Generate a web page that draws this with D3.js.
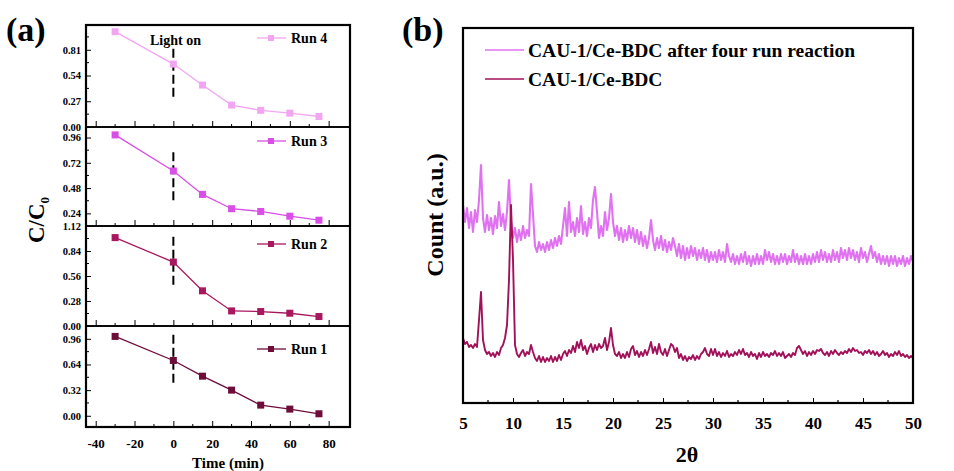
<!DOCTYPE html>
<html>
<head>
<meta charset="utf-8">
<script src="https://cdn.jsdelivr.net/npm/d3@7"></script>
<style>
  body { margin: 0; background: #fff; }
  text { font-family: "Liberation Serif", "Times New Roman", serif; font-weight: bold; }
</style>
</head>
<body>
<div class="fig"></div>
<script>
// ---------- data: panel (a) ----------
const timeMin = [-30, 0, 15, 30, 45, 60, 75];
const runNames = ['Run 4', 'Run 3', 'Run 2', 'Run 1'];
const run4 = [1.00, 0.66, 0.44, 0.23, 0.175, 0.145, 0.11];
const run3 = [0.985, 0.642, 0.42, 0.284, 0.258, 0.213, 0.175];
const run2 = [0.99, 0.716, 0.394, 0.169, 0.162, 0.143, 0.106];
const run1 = [0.99, 0.69, 0.494, 0.32, 0.133, 0.083, 0.025];
const runTicks = [
  [0, 0.27, 0.54, 0.81],
  [0.24, 0.48, 0.72, 0.96],
  [0, 0.28, 0.56, 0.84, 1.12],
  [0, 0.32, 0.64, 0.96]
];
const runDomains = [[0, 1.07], [0.12, 1.06], [0, 1.12], [-0.14, 1.12]];
// light-on marker (vertical dashed line at t = 0), from/to in C/C0
const lightOnSpan = [[0.82, 0.31], [0.82, 0.36], [1.0, 0.45], [1.01, 0.41]];
const timeTicks = [-40, -20, 0, 20, 40, 60, 80];

// ---------- data: panel (b), 2theta from 5 to 50 in 0.2 steps ----------
const thetaStart = 5, thetaStep = 0.2;
const xrdAfter = [
  198,181,195,175,191,171,193,181,203,238,
  185,171,188,173,185,169,187,175,201,177,
  189,173,191,223,181,165,175,161,173,163,
  177,165,173,167,219,189,157,151,161,153,
  159,151,161,153,163,155,165,157,167,159,
  177,195,167,201,171,181,167,185,171,197,
  169,181,167,185,175,203,216,191,165,177,
  167,191,173,185,209,181,167,177,163,175,
  161,173,163,177,165,175,161,173,159,171,
  157,167,155,165,183,163,153,165,155,167,
  153,163,151,161,153,165,157,147,159,145,
  157,143,155,145,157,147,155,143,153,145,
  155,143,153,141,151,143,151,141,153,143,
  151,141,159,147,141,149,139,147,139,149,
  141,151,139,147,137,147,139,149,139,147,
  139,153,143,151,141,149,139,147,139,149,
  141,149,139,147,141,153,141,149,139,147,
  139,149,139,147,139,149,141,151,141,153,
  143,151,141,149,141,153,143,151,141,155,
  145,153,143,155,145,153,143,151,141,155,
  145,151,141,149,157,145,151,141,149,139,
  147,139,147,137,147,139,147,137,145,139,
  147,137,145,139,147,141
];
const xrdFresh = [
  65,59,61,56,58,55,59,56,83,111,
  63,53,49,51,47,50,46,51,48,55,
  58,65,78,123,198,143,58,49,46,50,
  53,47,51,49,58,51,45,42,47,41,
  46,41,45,42,47,41,46,42,48,43,
  49,52,47,53,50,57,51,61,55,63,
  53,57,49,55,59,51,58,53,59,55,
  57,65,53,61,75,58,49,47,51,45,
  49,45,51,46,54,57,48,52,46,51,
  47,53,48,54,61,50,56,49,59,51,
  48,54,47,53,59,57,51,55,45,49,
  43,47,42,46,44,48,43,47,44,49,
  51,55,49,47,54,48,54,47,51,46,
  50,47,52,46,49,47,51,48,53,49,
  54,48,50,46,51,47,49,44,50,46,
  51,47,49,46,50,48,52,47,50,47,
  51,45,47,49,46,50,48,55,57,53,
  49,52,47,51,48,52,49,53,52,54,
  50,48,51,47,52,49,53,50,48,51,
  49,52,50,54,51,55,52,53,50,51,
  48,52,50,53,49,52,48,51,47,49,
  52,48,50,46,49,47,51,48,52,47,
  49,46,48,45,47,45
];
const xrdNames = ['CAU-1/Ce-BDC after four run reaction', 'CAU-1/Ce-BDC'];
const thetaTicks = [5, 10, 15, 20, 25, 30, 35, 40, 45, 50];

// ---------- styles ----------
const runColors = ['#f2a6f2', '#d94ee6', '#a8185e', '#6e0d3a'];
const xrdColors = ['#e072f2', '#a3105a'];

const svg = d3.select('.fig').append('svg')
  .attr('width', 954)
  .attr('height', 471)
  .style('background', '#fff');

// ================= panel (a) =================
const aLeft = 86, aRight = 350;
const panelTops = [25, 127, 226, 326];
const aBottom = 427;
const legendDy = [13, 14, 18, 23];

const xA = d3.scaleLinear().domain([-45, 91]).range([aLeft, aRight]);
const runs = [run4, run3, run2, run1];

runs.forEach((vals, k) => {
  const top = panelTops[k];
  const bottom = k < 3 ? panelTops[k + 1] : aBottom;
  const y = d3.scaleLinear().domain(runDomains[k]).range([bottom, top]);
  const g = svg.append('g');

  // minor y ticks
  const step = runTicks[k][1] - runTicks[k][0];
  const minorY = runTicks[k].map(t => t + step / 2).concat([runTicks[k][0] - step / 2])
    .filter(v => v > runDomains[k][0] && v < runDomains[k][1]);
  g.selectAll('.my').data(minorY).enter().append('line')
    .attr('x1', aLeft).attr('x2', aLeft + 3)
    .attr('y1', d => y(d)).attr('y2', d => y(d))
    .attr('stroke', '#000').attr('stroke-width', 1);

  const yAxis = g.append('g')
    .attr('transform', `translate(${aLeft},0)`)
    .call(d3.axisLeft(y).tickValues(runTicks[k]).tickSize(-5).tickPadding(5)
      .tickFormat(d3.format('.2f')));
  yAxis.select('.domain').remove();
  yAxis.selectAll('text').style('font-size', '10.5px')
    .style('font-family', '"Liberation Serif", serif').style('font-weight', 'bold');

  // x ticks (inward) at the bottom of each sub panel
  const xAxis = g.append('g')
    .attr('transform', `translate(0,${bottom})`)
    .call(d3.axisBottom(xA).tickValues(timeTicks).tickSize(-6).tickPadding(12)
      .tickFormat(k === 3 ? d3.format('d') : () => ''));
  xAxis.select('.domain').remove();
  xAxis.selectAll('text').style('font-size', '13px')
    .style('font-family', '"Liberation Serif", serif').style('font-weight', 'bold')
    .text(d => k === 3 ? (d < 0 ? '-' + Math.abs(d) : d) : '');
  g.selectAll('.mx').data([-30, -10, 10, 30, 50, 70]).enter().append('line')
    .attr('x1', d => xA(d)).attr('x2', d => xA(d))
    .attr('y1', bottom).attr('y2', bottom - 3)
    .attr('stroke', '#000').attr('stroke-width', 1);

  // dashed light-on line
  g.append('line')
    .attr('x1', xA(0)).attr('x2', xA(0))
    .attr('y1', y(lightOnSpan[k][0])).attr('y2', y(lightOnSpan[k][1]))
    .attr('stroke', '#000').attr('stroke-width', 2)
    .attr('stroke-dasharray', '9,4');

  // series
  const line = d3.line().x((d, i) => xA(timeMin[i])).y(d => y(d));
  g.append('path').datum(vals)
    .attr('d', line)
    .attr('fill', 'none')
    .attr('stroke', runColors[k])
    .attr('stroke-width', 1.3);
  g.selectAll('.pt').data(vals).enter().append('rect')
    .attr('x', (d, i) => xA(timeMin[i]) - 3.5)
    .attr('y', d => y(d) - 3.5)
    .attr('width', 7).attr('height', 7)
    .attr('fill', runColors[k]);

  // legend
  const ly = top + legendDy[k];
  g.append('line').attr('x1', 257).attr('x2', 286).attr('y1', ly).attr('y2', ly)
    .attr('stroke', runColors[k]).attr('stroke-width', 1.3);
  g.append('rect').attr('x', 268).attr('y', ly - 3).attr('width', 6).attr('height', 6)
    .attr('fill', runColors[k]);
  g.append('text').attr('x', 291).attr('y', ly + 5)
    .style('font-size', '14px').text(runNames[k]);

  // panel separator / frame
  g.append('rect')
    .attr('x', aLeft).attr('y', top)
    .attr('width', aRight - aLeft).attr('height', bottom - top)
    .attr('fill', 'none').attr('stroke', '#000').attr('stroke-width', 1.6);
});

svg.append('rect')
  .attr('x', aLeft).attr('y', panelTops[0])
  .attr('width', aRight - aLeft).attr('height', aBottom - panelTops[0])
  .attr('fill', 'none').attr('stroke', '#000').attr('stroke-width', 2.2);

svg.append('text').attr('x', 150).attr('y', 45)
  .style('font-size', '14px').text('Light on');

svg.append('text').attr('x', 6).attr('y', 41)
  .style('font-size', '34px').text('(a)');

const cLabel = svg.append('text')
  .attr('transform', 'translate(44,220) rotate(-90)')
  .attr('text-anchor', 'middle')
  .style('font-size', '23px');
cLabel.append('tspan').text('C/C');
cLabel.append('tspan').attr('dy', 5).style('font-size', '13px').text('0');

svg.append('text').attr('x', 228).attr('y', 468)
  .attr('text-anchor', 'middle')
  .style('font-size', '15px').text('Time (min)');

// ================= panel (b) =================
const bLeft = 463, bRight = 913, bTop = 28, bBottom = 403;
const xB = d3.scaleLinear().domain([5, 50]).range([bLeft, bRight]);
const yB = d3.scaleLinear().domain([0, 375]).range([bBottom, bTop]);

const xrdLine = d3.line()
  .x((d, i) => xB(thetaStart + i * thetaStep))
  .y(d => yB(d));

const xrdWidths = [2.1, 1.9];
[xrdAfter, xrdFresh].forEach((vals, k) => {
  svg.append('path').datum(vals)
    .attr('d', xrdLine)
    .attr('fill', 'none')
    .attr('stroke', xrdColors[k])
    .attr('stroke-width', xrdWidths[k])
    .attr('stroke-linejoin', 'round');
});

const xAxisB = svg.append('g')
  .attr('transform', `translate(0,${bBottom})`)
  .call(d3.axisBottom(xB).tickValues(thetaTicks).tickSize(-5).tickPadding(14));
xAxisB.select('.domain').remove();
xAxisB.selectAll('text').style('font-size', '17px')
  .style('font-family', '"Liberation Serif", serif').style('font-weight', 'bold');
svg.selectAll('.mxb').data(thetaTicks.slice(0, -1).map(d => d + 2.5)).enter().append('line')
  .attr('x1', d => xB(d)).attr('x2', d => xB(d))
  .attr('y1', bBottom).attr('y2', bBottom - 3)
  .attr('stroke', '#000').attr('stroke-width', 1.2);

svg.append('rect')
  .attr('x', bLeft).attr('y', bTop)
  .attr('width', bRight - bLeft).attr('height', bBottom - bTop)
  .attr('fill', 'none').attr('stroke', '#000').attr('stroke-width', 2.2);

// legend
xrdNames.forEach((name, k) => {
  const ly = 50 + k * 29;
  svg.append('line').attr('x1', 485).attr('x2', 524).attr('y1', ly).attr('y2', ly)
    .attr('stroke', xrdColors[k]).attr('stroke-width', 1.6);
  svg.append('text').attr('x', 528).attr('y', ly + 7)
    .style('font-size', '19.5px').text(name);
});

svg.append('text').attr('x', 402).attr('y', 41)
  .style('font-size', '34px').text('(b)');

svg.append('text')
  .attr('transform', 'translate(443,215) rotate(-90)')
  .attr('text-anchor', 'middle')
  .style('font-size', '24px').text('Count (a.u.)');

svg.append('text').attr('x', 687).attr('y', 462)
  .attr('text-anchor', 'middle')
  .style('font-size', '22px').text('2θ');
</script>
</body>
</html>
